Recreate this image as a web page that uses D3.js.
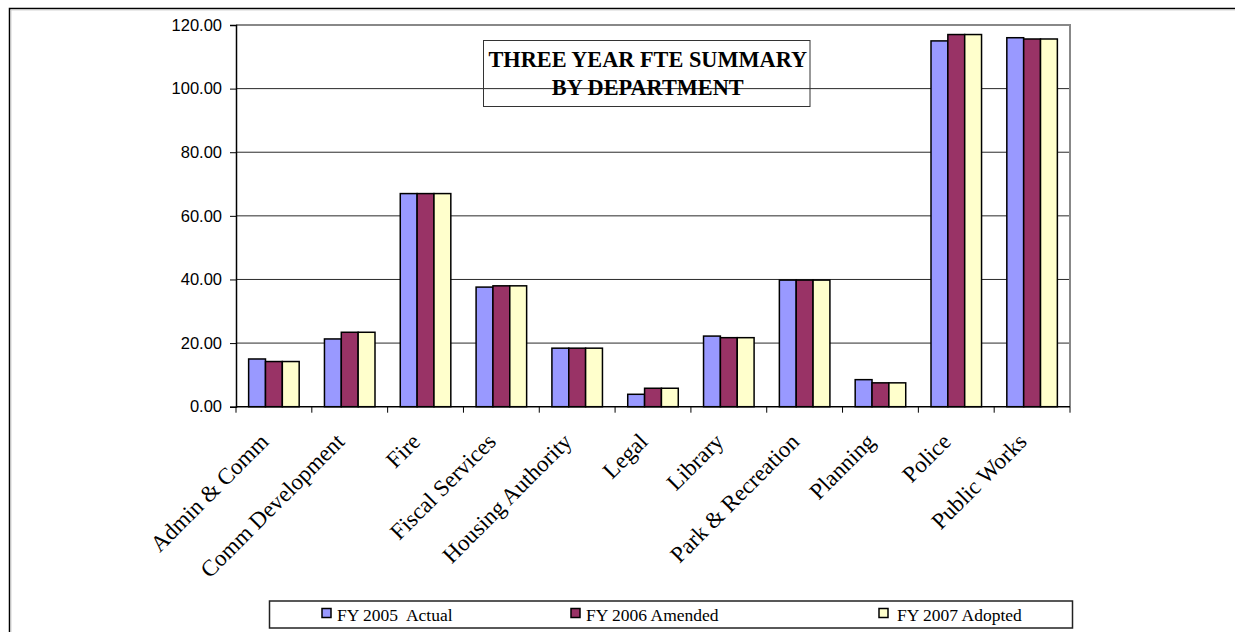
<!DOCTYPE html>
<html>
<head>
<meta charset="utf-8">
<script src="https://cdn.jsdelivr.net/npm/d3@7/dist/d3.min.js"></script>
<style>
  html, body { margin: 0; padding: 0; background: #fff; }
  svg { display: block; }
</style>
</head>
<body>
<svg id="chart" width="1235" height="632"></svg>
<script>
const categories = ["Admin & Comm", "Comm Development", "Fire", "Fiscal Services", "Housing Authority", "Legal", "Library", "Park & Recreation", "Planning", "Police", "Public Works"];
const seriesNames = ["FY 2005  Actual", "FY 2006 Amended", "FY 2007 Adopted"];
const fy2005 = [15.0, 21.3, 67.0, 37.6, 18.4, 3.9, 22.2, 39.8, 8.5, 115.0, 116.0];
const fy2006 = [14.2, 23.4, 67.0, 38.0, 18.4, 5.8, 21.7, 39.8, 7.5, 117.0, 115.6];
const fy2007 = [14.2, 23.4, 67.0, 38.0, 18.4, 5.8, 21.7, 39.8, 7.5, 117.0, 115.6];
const yTicks = [0, 20, 40, 60, 80, 100, 120];
const titleLines = ["THREE YEAR FTE SUMMARY", "BY DEPARTMENT"];

const colors = ["#9999FF", "#993366", "#FFFFCC"];
const seriesValues = [fy2005, fy2006, fy2007];

const svg = d3.select("#chart");

// outer border (chart area, clipped by page on right and bottom)
svg.append("path")
  .attr("d", "M9.5,700 V8.5 H1300")
  .attr("fill", "none").attr("stroke", "#000").attr("stroke-width", 1.5);
svg.append("path")
  .attr("d", "M11,700 V10 H1300")
  .attr("fill", "none").attr("stroke", "#c8c8c8").attr("stroke-width", 0.8);

const plotL = 236, plotR = 1070, plotT = 25, plotB = 406.7;

const x = d3.scaleBand().domain(categories).range([plotL, plotR]).paddingInner(0).paddingOuter(0);
const x1 = d3.scaleBand().domain(d3.range(seriesNames.length)).range([0, x.bandwidth()]).paddingInner(0).paddingOuter(0.75);
const y = d3.scaleLinear().domain([0, 120]).range([plotB, plotT]);

// gridlines
svg.append("g").selectAll("line")
  .data(yTicks.filter(t => t > 0 && t < 120))
  .join("line")
  .attr("x1", plotL).attr("x2", plotR)
  .attr("y1", d => y(d)).attr("y2", d => y(d))
  .attr("stroke", "#2a2a2a").attr("stroke-width", 1);

// plot area border top/right (gray)
svg.append("path")
  .attr("d", `M${plotL},${y(120)} H${plotR} V${plotB}`)
  .attr("fill", "none").attr("stroke", "#888").attr("stroke-width", 2);

// bars
const groups = svg.append("g").selectAll("g")
  .data(categories)
  .join("g")
  .attr("transform", d => `translate(${x(d)},0)`);

groups.selectAll("rect")
  .data((d, i) => seriesValues.map((vals, s) => ({ s, v: vals[i] })))
  .join("rect")
  .attr("x", d => x1(d.s))
  .attr("width", x1.bandwidth())
  .attr("y", d => y(d.v))
  .attr("height", d => y(0) - y(d.v))
  .attr("fill", d => colors[d.s])
  .attr("stroke", "#000")
  .attr("stroke-width", 1.5);

// y axis
const yAxis = svg.append("g")
  .attr("transform", `translate(${plotL},0)`)
  .call(d3.axisLeft(y).tickValues(yTicks).tickFormat(d3.format(".2f")).tickSize(6).tickPadding(8));
yAxis.select(".domain").attr("stroke", "#000").attr("stroke-width", 1.5);
yAxis.selectAll(".tick line").attr("stroke", "#000").attr("stroke-width", 1);
yAxis.selectAll(".tick text")
  .attr("font-family", "'Liberation Sans', Arial, sans-serif")
  .attr("font-size", "16.5px").attr("fill", "#000");

// x axis line and ticks at category boundaries
const boundaries = categories.map(c => x(c)).concat([plotR]);
svg.append("line")
  .attr("x1", plotL).attr("x2", plotR).attr("y1", plotB).attr("y2", plotB)
  .attr("stroke", "#000").attr("stroke-width", 1.5);
svg.append("g").selectAll("line")
  .data(boundaries)
  .join("line")
  .attr("x1", d => d).attr("x2", d => d)
  .attr("y1", plotB).attr("y2", plotB + 6)
  .attr("stroke", "#000").attr("stroke-width", 1);

// x labels rotated
svg.append("g").selectAll("text")
  .data(categories)
  .join("text")
  .attr("transform", d => `translate(${x(d) + x.bandwidth() / 2 - 4},443) rotate(-45)`)
  .attr("text-anchor", "end")
  .attr("font-family", "'Liberation Serif', 'Times New Roman', serif")
  .attr("font-size", "23px")
  .attr("fill", "#000")
  .text(d => d);

// title box
const tb = { x: 483.5, y: 40.5, w: 326.5, h: 66 };
svg.append("rect")
  .attr("x", tb.x).attr("y", tb.y).attr("width", tb.w).attr("height", tb.h)
  .attr("fill", "none").attr("stroke", "#333").attr("stroke-width", 1);
svg.append("g").selectAll("text")
  .data(titleLines)
  .join("text")
  .attr("x", tb.x + tb.w / 2 + 1)
  .attr("y", (d, i) => 66.5 + i * 28.5)
  .attr("text-anchor", "middle")
  .attr("font-family", "'Liberation Serif', 'Times New Roman', serif")
  .attr("font-weight", "bold")
  .attr("font-size", "22.3px")
  .attr("fill", "#000")
  .text(d => d);

// legend
const lg = { x: 269.5, y: 601, w: 803, h: 27 };
svg.append("rect")
  .attr("x", lg.x).attr("y", lg.y).attr("width", lg.w).attr("height", lg.h)
  .attr("fill", "#fff").attr("stroke", "#222").attr("stroke-width", 1.5);
const legendX = [322, 571, 879];
const li = svg.append("g").selectAll("g")
  .data(seriesNames)
  .join("g")
  .attr("transform", (d, i) => `translate(${legendX[i]},0)`);
li.append("rect")
  .attr("x", 0).attr("y", 608.5).attr("width", 9).attr("height", 9)
  .attr("fill", (d, i) => colors[i]).attr("stroke", "#000").attr("stroke-width", 1.5);
li.append("text")
  .attr("x", (d, i) => i === 2 ? 18 : 15)
  .attr("y", 621)
  .attr("font-family", "'Liberation Serif', 'Times New Roman', serif")
  .attr("font-size", "17.5px")
  .attr("fill", "#000")
  .style("white-space", "pre")
  .text(d => d);
</script>
</body>
</html>
